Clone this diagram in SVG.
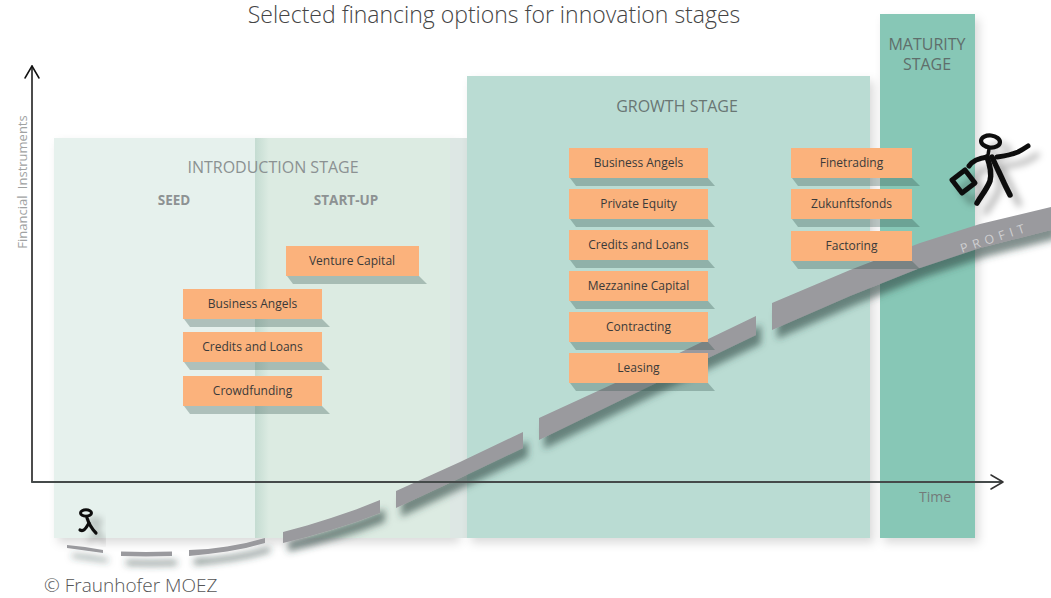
<svg xmlns="http://www.w3.org/2000/svg" width="1051" height="598" viewBox="0 0 1051 598">
<defs>
<style>
.box{fill:#fbb27c}
.bsh{fill:#2f4f49;fill-opacity:.3}
.bt{font-family:"Open Sans","Liberation Sans",sans-serif;font-size:12px;fill:#3a3a3a;text-anchor:middle}
.stage{font-family:"Open Sans","Liberation Sans",sans-serif;font-size:16px;text-anchor:middle}
.sub{font-family:"Open Sans","Liberation Sans",sans-serif;font-size:13.5px;font-weight:bold;fill:#8d9293;text-anchor:middle}
.band{fill:#9a9a9e}
.ax{fill:none;stroke-linecap:round;stroke-linejoin:round}
.fig{fill:none;stroke:#111;stroke-linecap:round;stroke-linejoin:round}
</style>
<filter id="psh" x="-10%" y="-10%" width="125%" height="125%">
<feDropShadow dx="4" dy="5" stdDeviation="5" flood-color="#000" flood-opacity="0.14"/>
</filter>
<filter id="bsh" x="-10%" y="-20%" width="130%" height="160%">
<feDropShadow dx="5" dy="9" stdDeviation="3.5" flood-color="#2c4541" flood-opacity="0.6"/>
</filter>
<filter id="fsh" x="-40%" y="-40%" width="200%" height="200%">
<feDropShadow dx="9" dy="9" stdDeviation="3.5" flood-color="#000" flood-opacity="0.3"/>
</filter>
<linearGradient id="strip" x1="0" y1="0" x2="1" y2="0">
<stop offset="0" stop-color="#6fa596" stop-opacity="0.22"/>
<stop offset="1" stop-color="#6fa596" stop-opacity="0"/>
</linearGradient>
</defs>
<rect width="1051" height="598" fill="#fff"/>

<text x="494" y="23" font-family="'Open Sans','Liberation Sans',sans-serif" font-size="23" font-weight="300" fill="#444" text-anchor="middle">Selected financing options for innovation stages</text>

<g id="introduction-stage">
<g filter="url(#psh)">
<rect x="54" y="138" width="201" height="400" fill="#e6f1ed"/>
<rect x="255" y="138" width="201" height="400" fill="#dcebe2"/>
</g>
<rect x="255" y="138" width="14" height="400" fill="url(#strip)"/>
<rect x="450" y="138" width="17" height="400" fill="#dde7e4"/>
<text class="stage" x="273" y="173" fill="#8b9192">INTRODUCTION STAGE</text>
<text class="sub" x="174" y="205">SEED</text>
<text class="sub" x="346" y="205">START-UP</text>
</g>

<g id="growth-stage">
<rect x="467" y="76" width="403" height="462" fill="#badcd3" filter="url(#psh)"/>
<text class="stage" x="677" y="112" fill="#697673">GROWTH STAGE</text>
</g>

<g id="maturity-stage">
<rect x="880" y="14" width="95" height="524" fill="#87c7b6" filter="url(#psh)"/>
<text class="stage" x="927" y="49.5" fill="#5f6e6b" font-size="15.5">MATURITY</text>
<text class="stage" x="927" y="70" fill="#5f6e6b" font-size="15.5">STAGE</text>
</g>

<g id="profit-path" filter="url(#bsh)">
<polygon class="band" points="67,545 85,547 103,550 103,553 85,550.5 67,548"/>
<polygon class="band" points="121,551.5 146,552 172,551.5 172,556 146,556.5 121,556"/>
<polygon class="band" points="189,550 208,549 227,546.5 246,543 265,538 265,543 246,548 227,551.5 208,554 189,556"/>
<polygon class="band" points="283,532 307,525.5 331,518 356,509.5 380,500 380,513 356,522 331,530 307,537 283,543"/>
<polygon class="band" points="396,491 460,462 523,432 523,448 460,478 396,508"/>
<polygon class="band" points="539,418 650,367 756,316 756,335 650,386 539,440"/>
<polygon class="band" points="772,303 850,270 920,243 980,224 1051,207 1051,230 980,248 920,268 850,296 772,330"/>
</g>
<text x="995" y="242" transform="rotate(-18 995 238)" font-family="'Open Sans','Liberation Sans',sans-serif" font-size="12.5" letter-spacing="5" fill="#cfcfd1" text-anchor="middle">PROFIT</text>

<g id="connectors">
<path class="ax" d="M32,482 V66" stroke="#111" stroke-width="1.5"/>
<path class="ax" d="M25,78 L32,66 L39,78" stroke="#111" stroke-width="1.5"/>
<path class="ax" d="M32,482 H1002" stroke="#454a4a" stroke-width="1.8"/>
<path class="ax" d="M991,475 L1003,482 L991,489" stroke="#333" stroke-width="1.5"/>
</g>
<text x="22" y="182" transform="rotate(-90 22 182)" font-family="'Open Sans','Liberation Sans',sans-serif" font-size="13" fill="#a0a2a2" text-anchor="middle" dominant-baseline="central" word-spacing="3">Financial Instruments</text>
<text x="935" y="502" font-family="'Open Sans','Liberation Sans',sans-serif" font-size="14" fill="#737b7a" text-anchor="middle">Time</text>

<g id="box-venture-capital"><polygon class="bsh" points="287,276 419,276 427,284 293,284"/><rect class="box" x="286" y="246" width="133" height="30"/><text class="bt" x="352" y="265">Venture Capital</text></g>
<g id="box-seed-business-angels"><polygon class="bsh" points="184,319 322,319 330,327 190,327"/><rect class="box" x="183" y="289" width="139" height="30"/><text class="bt" x="252.5" y="308">Business Angels</text></g>
<g id="box-seed-credits-loans"><polygon class="bsh" points="184,362 322,362 330,370 190,370"/><rect class="box" x="183" y="332" width="139" height="30"/><text class="bt" x="252.5" y="351">Credits and Loans</text></g>
<g id="box-crowdfunding"><polygon class="bsh" points="184,406 322,406 330,414 190,414"/><rect class="box" x="183" y="376" width="139" height="30"/><text class="bt" x="252.5" y="395">Crowdfunding</text></g>

<g id="box-business-angels"><polygon class="bsh" points="570,178 708,178 715,186 576,186"/><rect class="box" x="569" y="148" width="139" height="30"/><text class="bt" x="638.5" y="167">Business Angels</text></g>
<g id="box-private-equity"><polygon class="bsh" points="570,219 708,219 715,227 576,227"/><rect class="box" x="569" y="189" width="139" height="30"/><text class="bt" x="638.5" y="208">Private Equity</text></g>
<g id="box-credits-loans"><polygon class="bsh" points="570,260 708,260 715,268 576,268"/><rect class="box" x="569" y="230" width="139" height="30"/><text class="bt" x="638.5" y="249">Credits and Loans</text></g>
<g id="box-mezzanine"><polygon class="bsh" points="570,301 708,301 715,309 576,309"/><rect class="box" x="569" y="271" width="139" height="30"/><text class="bt" x="638.5" y="290">Mezzanine Capital</text></g>
<g id="box-contracting"><polygon class="bsh" points="570,342 708,342 715,350 576,350"/><rect class="box" x="569" y="312" width="139" height="30"/><text class="bt" x="638.5" y="331">Contracting</text></g>
<g id="box-leasing"><polygon class="bsh" points="570,383 708,383 715,391 576,391"/><rect class="box" x="569" y="353" width="139" height="30"/><text class="bt" x="638.5" y="372">Leasing</text></g>

<g id="box-finetrading"><polygon class="bsh" points="792,178 912,178 920,186 798,186"/><rect class="box" x="791" y="148" width="121" height="30"/><text class="bt" x="851.5" y="167">Finetrading</text></g>
<g id="box-zukunftsfonds"><polygon class="bsh" points="792,219 912,219 920,227 798,227"/><rect class="box" x="791" y="189" width="121" height="30"/><text class="bt" x="851.5" y="208">Zukunftsfonds</text></g>
<g id="box-factoring"><polygon class="bsh" points="792,261 912,261 920,269 798,269"/><rect class="box" x="791" y="231" width="121" height="30"/><text class="bt" x="851.5" y="250">Factoring</text></g>

<g id="runner" filter="url(#fsh)">
<ellipse class="fig" cx="990.5" cy="141.5" rx="9.5" ry="6" stroke-width="4.2" transform="rotate(6 990.5 141.5)"/>
<path class="fig" d="M989,149 L988,155" stroke-width="3.5"/>
<path class="fig" d="M997,157 C1005,156 1013,154 1018,152 C1022,150 1025,148 1028,146" stroke-width="5"/>
<path class="fig" d="M987,157 C980,158 973,160 969,166" stroke-width="5"/>
<path class="fig" d="M987,157 C990,165 992,173 990,181 C987,189 981,196 977,203" stroke-width="5.5"/>
<path class="fig" d="M992,157 C996,166 1001,176 1005,185 L1010,195" stroke-width="5.5"/>
<polygon class="fig" points="952,180 965,170 975,183 962,193" stroke-width="5"/>
</g>

<g id="walker" filter="url(#fsh)">
<ellipse class="fig" cx="86" cy="513" rx="5.5" ry="3.2" stroke-width="3"/>
<path class="fig" d="M87,518 C89,524 92,529 96,533" stroke-width="3.2"/>
<path class="fig" d="M89,523 C86,528 84,532 80,530" stroke-width="3.2"/>
</g>

<text x="44" y="592" font-family="'Open Sans','Liberation Sans',sans-serif" font-size="19" font-weight="300" fill="#555">© Fraunhofer MOEZ</text>
</svg>
